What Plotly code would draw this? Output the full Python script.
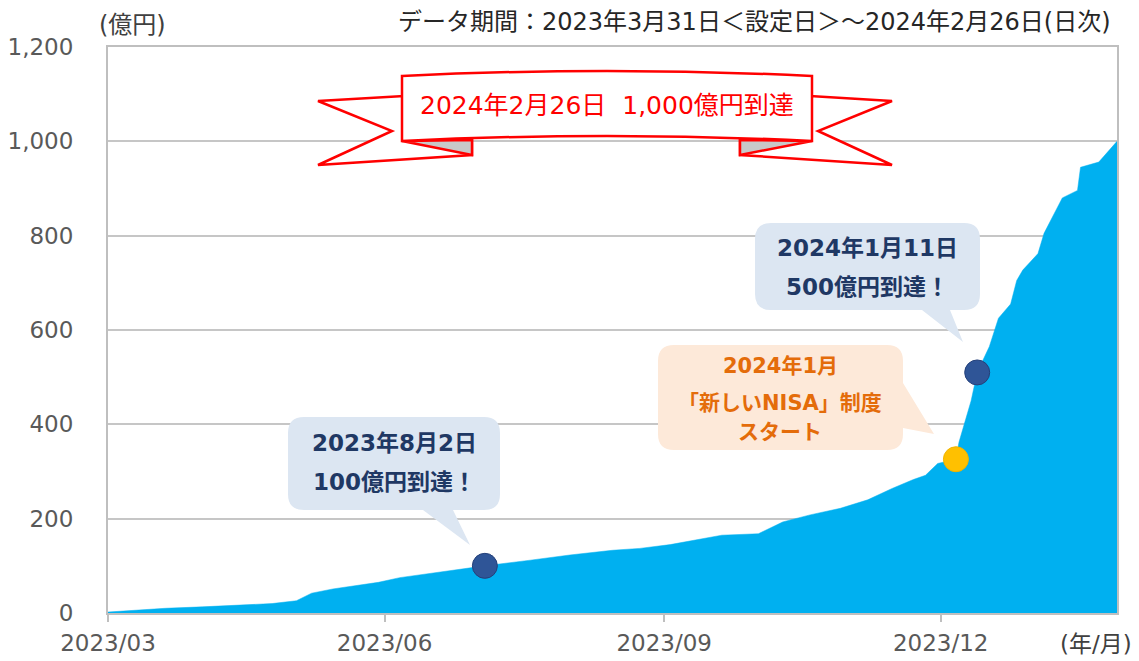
import plotly.graph_objects as go

# ---- data ----
dates = ["2023-03-31", "2023-04-05", "2023-04-19", "2023-05-01", "2023-05-11", "2023-05-24",
         "2023-06-01", "2023-06-06", "2023-06-13", "2023-06-22", "2023-06-28", "2023-07-05",
         "2023-07-14", "2023-07-20", "2023-08-02", "2023-08-17", "2023-08-30", "2023-09-13",
         "2023-09-22", "2023-10-02", "2023-10-10", "2023-10-19", "2023-10-31", "2023-11-08",
         "2023-11-17", "2023-11-27", "2023-12-06", "2023-12-14", "2023-12-21", "2023-12-25",
         "2023-12-29", "2024-01-04", "2024-01-05", "2024-01-09", "2024-01-11", "2024-01-15",
         "2024-01-18", "2024-01-22", "2024-01-24", "2024-01-26", "2024-01-31", "2024-02-02",
         "2024-02-08", "2024-02-13", "2024-02-14", "2024-02-20", "2024-02-26"]
aum = [2, 4, 10, 13, 16, 20,
       26, 42, 51, 60, 65, 75,
       83, 89, 100, 112, 123, 133,
       137, 145, 155, 165, 168, 193,
       208, 222, 240, 264, 283, 292,
       317, 326, 362, 450, 510, 565,
       625, 655, 705, 727, 762, 805,
       880, 896, 945, 956, 1000]

milestone_dates = ["2023-08-02", "2024-01-11"]
milestone_values = [100, 510]
nisa_dates = ["2024-01-04"]
nisa_values = [326]

tick_dates = ["2023-03-31", "2023-06-30", "2023-09-30", "2023-12-30"]
tick_labels = ["2023/03", "2023/06", "2023/09", "2023/12"]
y_ticks = [0, 200, 400, 600, 800, 1000, 1200]

# ---- geometry helpers for decorations (pixel -> paper) ----
L, R, T, B = 108, 1117, 47, 613
W, H = R - L, B - T


def px(x):
    return (x - L) / W


def py(y):
    return (B - y) / H


def pt(x, y):
    return f"{px(x):.5f},{py(y):.5f}"


def path(cmds):
    out = []
    for c in cmds:
        if c[0] == "Z":
            out.append("Z")
        elif c[0] == "Q":
            out.append(f"Q{pt(c[1], c[2])} {pt(c[3], c[4])}")
        else:
            out.append(f"{c[0]}{pt(c[1], c[2])}")
    return " ".join(out)


def bubble(x0, y0, x1, y1, r, tail):
    cmds = [("M", x0 + r, y0), ("L", x1 - r, y0), ("Q", x1, y0, x1, y0 + r)]
    if tail[0] == "right":
        _, ya, yb, tx, ty = tail
        cmds += [("L", x1, ya), ("L", tx, ty), ("L", x1, yb)]
    cmds += [("L", x1, y1 - r), ("Q", x1, y1, x1 - r, y1)]
    if tail[0] == "bottom":
        _, xa, xb, tx, ty = tail
        cmds += [("L", xb, y1), ("L", tx, ty), ("L", xa, y1)]
    cmds += [("L", x0 + r, y1), ("Q", x0, y1, x0, y1 - r), ("L", x0, y0 + r),
             ("Q", x0, y0, x0 + r, y0), ("Z",)]
    return path(cmds)


fig = go.Figure()

fig.add_trace(go.Scatter(
    x=dates, y=aum, mode="lines", fill="tozeroy",
    line=dict(color="#00b0f0", width=0.5), fillcolor="#00b0f0",
    hoverinfo="skip", showlegend=False))

fig.add_trace(go.Scatter(
    x=milestone_dates, y=milestone_values, mode="markers",
    marker=dict(size=25, color="#2f5597", line=dict(color="#24407a", width=1)),
    showlegend=False))

fig.add_trace(go.Scatter(
    x=nisa_dates, y=nisa_values, mode="markers",
    marker=dict(size=25, color="#ffc000", line=dict(color="#f0b400", width=1)),
    showlegend=False))

shapes = []
shapes.append(dict(type="path", xref="paper", yref="paper", layer="above",
                   path=bubble(288, 417, 500, 510, 16, ("bottom", 423, 453, 470, 545)),
                   fillcolor="#dce6f2", line=dict(width=0)))
shapes.append(dict(type="path", xref="paper", yref="paper", layer="above",
                   path=bubble(755, 223, 980, 310, 16, ("bottom", 922, 950, 963, 342)),
                   fillcolor="#dce6f2", line=dict(width=0)))
shapes.append(dict(type="path", xref="paper", yref="paper", layer="above",
                   path=bubble(658, 345, 903, 450, 16, ("right", 383, 428, 934, 434)),
                   fillcolor="#fde9d9", line=dict(width=0)))

red = "#ff0000"
left_tail = path([("M", 472, 140), ("L", 472, 155), ("L", 318, 165), ("L", 392, 131),
                  ("L", 318, 101), ("L", 404, 96), ("Z",)])
right_tail = path([("M", 740, 140), ("L", 740, 155), ("L", 892, 165), ("L", 818, 131),
                   ("L", 892, 101), ("L", 810, 96), ("Z",)])
left_fold = path([("M", 402, 141), ("L", 472, 140), ("L", 472, 155), ("Z",)])
right_fold = path([("M", 812, 141), ("L", 740, 140), ("L", 740, 155), ("Z",)])
rect = path([("M", 402, 76), ("Q", 607, 66, 812, 76), ("L", 812, 141),
             ("Q", 607, 131, 402, 141), ("Z",)])
for p_, fc in [(left_tail, "white"), (right_tail, "white"),
               (left_fold, "#c8c8c8"), (right_fold, "#c8c8c8"), (rect, "white")]:
    shapes.append(dict(type="path", xref="paper", yref="paper", layer="above",
                       path=p_, fillcolor=fc, line=dict(color=red, width=2.5)))

fig.update_layout(shapes=shapes)

base_font = "DejaVu Sans, Noto Sans CJK JP, sans-serif"
navy = "#1f3864"
orange = "#e46c0a"


def note(text, x, y, size=22, color="#333333", xanchor="center", bold=False):
    fig.add_annotation(text=f"<b>{text}</b>" if bold else text,
                       x=px(x), y=py(y), xref="paper", yref="paper",
                       xanchor=xanchor, yanchor="middle", showarrow=False,
                       font=dict(family=base_font, size=size, color=color))


note("2023年8月2日", 394, 443, size=23, color=navy, bold=True)
note("100億円到達！", 394, 482, size=23, color=navy, bold=True)
note("2024年1月11日", 867, 248, size=23, color=navy, bold=True)
note("500億円到達！", 867, 287, size=23, color=navy, bold=True)
note("2024年1月", 780, 366, size=21, color=orange, bold=True)
note("「新しいNISA」制度", 780, 403, size=21, color=orange, bold=True)
note("スタート", 780, 432, size=21, color=orange, bold=True)
note("2024年2月26日  1,000億円到達", 607, 106, size=25, color=red)
note("(億円)", 132, 25, size=24, color="#404040")
note("データ期間：2023年3月31日＜設定日＞～2024年2月26日(日次)", 1113, 22, size=24,
     color="#262626", xanchor="right")
note("(年/月)", 1096, 644, size=23, color="#404040")

fig.update_xaxes(
    type="date", range=[dates[0], dates[-1]], automargin=False,
    tickmode="array", tickvals=tick_dates, ticktext=tick_labels,
    showgrid=False, showline=True, linecolor="#bfbfbf", linewidth=2, mirror=True,
    ticks="outside", ticklen=7, tickwidth=2, tickcolor="#bfbfbf",
    ticklabelstandoff=1,
    tickfont=dict(family=base_font, size=23, color="#595959"), zeroline=False)

fig.update_yaxes(
    range=[0, 1200], tickvals=y_ticks, tickformat=",", automargin=False,
    showgrid=True, gridcolor="#c6c6c6", gridwidth=1.5,
    showline=True, linecolor="#bfbfbf", linewidth=2, mirror=True,
    ticks="", ticklabelstandoff=28,
    tickfont=dict(family=base_font, size=23, color="#595959"), zeroline=False)

fig.update_layout(
    width=1139, height=661,
    margin=dict(l=L, r=1139 - R, t=T, b=661 - B),
    plot_bgcolor="white", paper_bgcolor="white",
    showlegend=False, hovermode=False)

fig.write_html("out.html", config={"displayModeBar": False},
               post_script="document.body.style.margin='0';document.body.style.overflow='hidden';")
